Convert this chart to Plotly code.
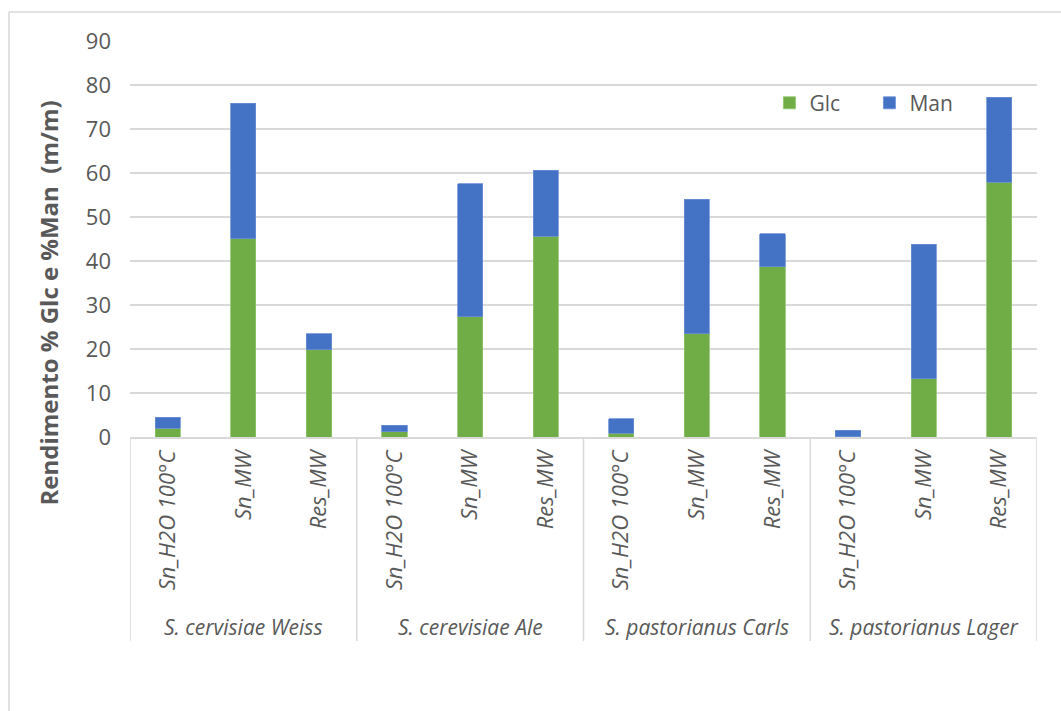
import plotly.graph_objects as go

# Yeast strains (outer category level) and treatments (inner level)
strains = ["S. cervisiae Weiss", "S. cerevisiae Ale", "S. pastorianus Carls", "S. pastorianus Lager"]
treatments = ["Sn_H2O 100°C", "Sn_MW", "Res_MW"]

# Yield (% m/m) per bar, ordered strain by strain, treatment by treatment
glc = [2.0, 45.1, 19.8,
       1.2, 27.3, 45.6,
       0.9, 23.5, 38.7,
       0.1, 13.2, 57.9]
man = [2.5, 30.7, 3.7,
       1.5, 30.3, 15.0,
       3.2, 30.5, 7.5,
       1.4, 30.6, 19.3]

y_ticks = [0, 10, 20, 30, 40, 50, 60, 70, 80, 90]

GREEN = "#70AD47"
BLUE = "#4472C4"
TEXT = "#595959"
GRID = "#D9D9D9"
FONT = "Open Sans"

n = len(strains) * len(treatments)
xs = list(range(n))
sub_labels = [t for _ in strains for t in treatments]

fig = go.Figure()
fig.add_trace(go.Bar(x=xs, y=glc, name="Glc", marker=dict(color=GREEN, line=dict(color="#8CC46A", width=0.8))))
fig.add_trace(go.Bar(x=xs, y=man, name="Man", marker=dict(color=BLUE, line=dict(color="#6A8FD6", width=0.8))))

shapes = []
# group separators below the category axis
for k in range(len(strains) + 1):
    xb = k * len(treatments) - 0.5
    shapes.append(dict(type="line", xref="x", yref="paper", x0=xb, x1=xb, y0=0, y1=-0.515,
                       line=dict(color=GRID, width=1.5)))
# chart frame (left and top edges)
shapes.append(dict(type="line", xref="paper", yref="paper", x0=-0.1334, x1=-0.1334, y0=1.0732, y1=-0.72,
                   line=dict(color=GRID, width=1.5)))
shapes.append(dict(type="line", xref="paper", yref="paper", x0=-0.1334, x1=1.04, y0=1.0732, y1=1.0732,
                   line=dict(color=GRID, width=1.5)))

annotations = []
for i, s in enumerate(strains):
    annotations.append(dict(x=i * len(treatments) + (len(treatments) - 1) / 2, y=-0.48, xref="x", yref="paper",
                            text=s, showarrow=False, yanchor="middle",
                            font=dict(family=FONT, size=21, color=TEXT, style="italic")))
annotations.append(dict(x=-0.09, y=0.338, xref="paper", yref="paper", textangle=-90,
                        text="<b>Rendimento % Glc e %Man  (m/m)</b>", showarrow=False,
                        xanchor="center", yanchor="middle",
                        font=dict(family=FONT, size=24, color=TEXT)))

fig.update_layout(
    width=1061, height=711,
    margin=dict(l=130, r=24, t=41, b=274),
    paper_bgcolor="white", plot_bgcolor="white",
    barmode="stack", bargap=0.667,
    font=dict(family=FONT, color=TEXT),
    showlegend=True,
    legend=dict(orientation="h", traceorder="normal", x=0.705, y=0.843, xanchor="left", yanchor="middle",
                font=dict(family=FONT, size=21, color=TEXT), entrywidth=55,
                bgcolor="rgba(0,0,0,0)"),
    shapes=shapes,
    annotations=annotations,
)
fig.update_xaxes(tickmode="array", tickvals=xs, ticktext=sub_labels, tickangle=-90,
                 range=[-0.5, n - 0.5], showline=True, linecolor=GRID, linewidth=1.5,
                 showgrid=False, zeroline=False, ticks="", ticklabelstandoff=3,
                 tickfont=dict(family=FONT, size=22, color=TEXT, style="italic"))
fig.update_yaxes(range=[0, 90], tickmode="array", tickvals=y_ticks, showgrid=True, gridcolor=GRID,
                 gridwidth=1.5, zeroline=False, showline=False, ticks="", ticklabelstandoff=18,
                 tickfont=dict(family=FONT, size=22, color=TEXT))

fig.write_html("out.html")
